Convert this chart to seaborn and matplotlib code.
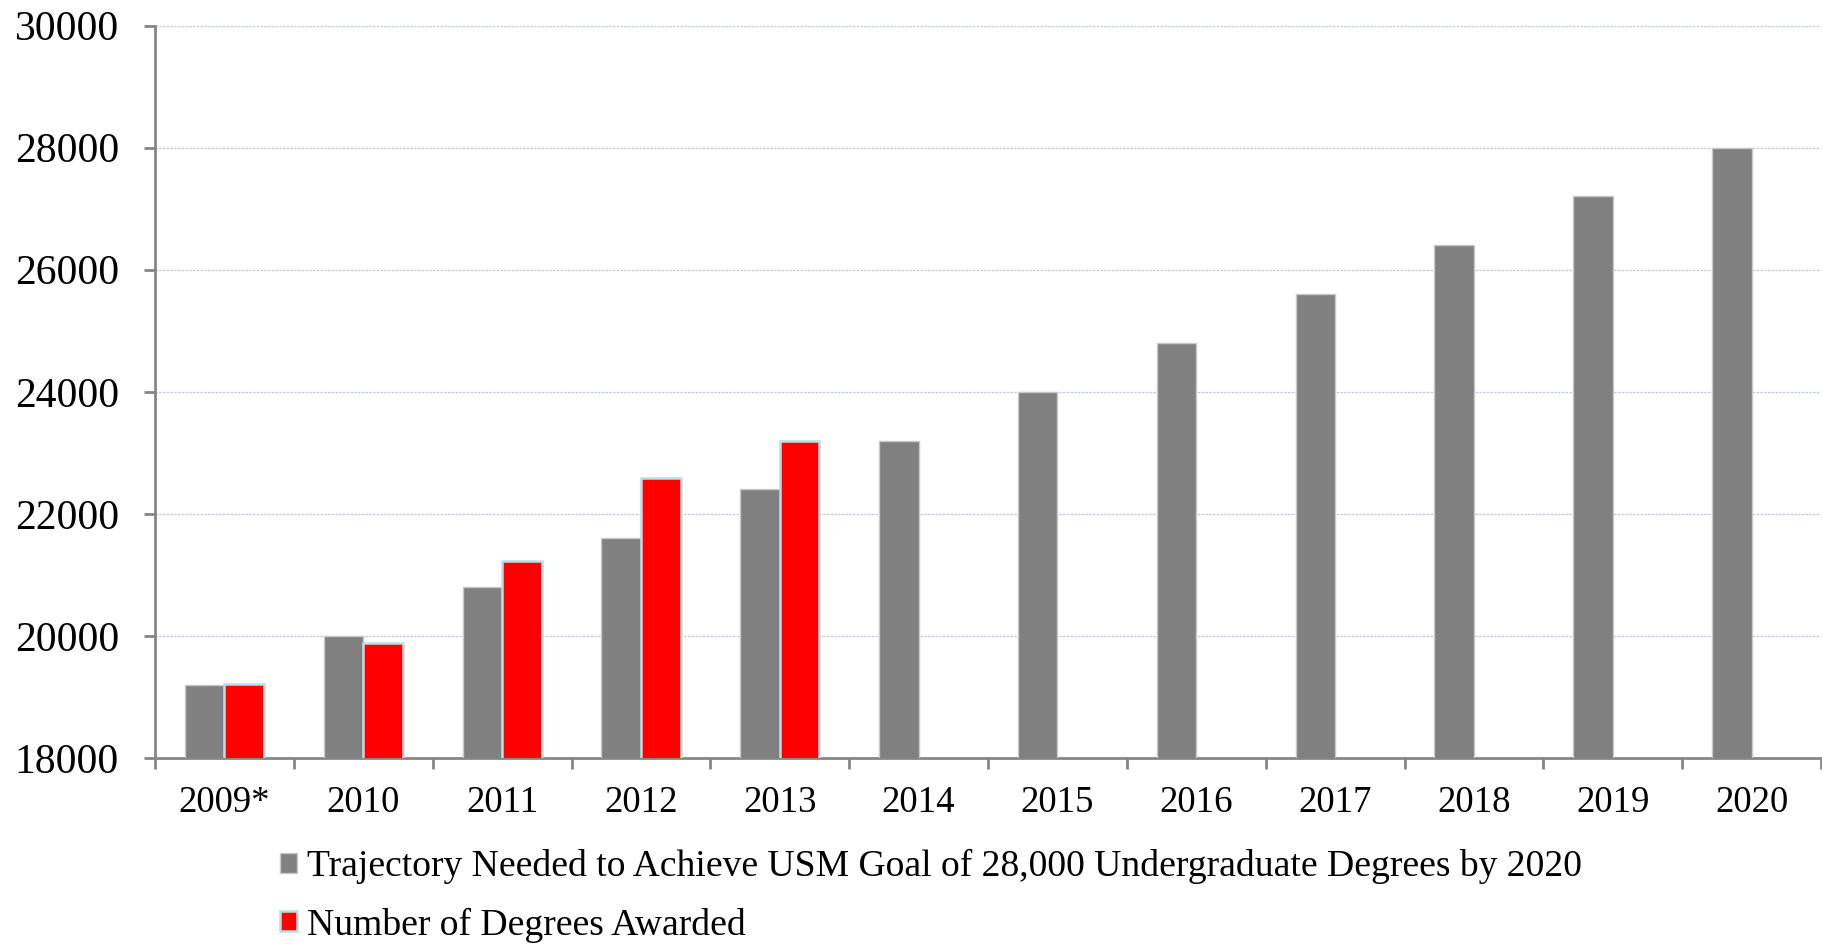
import matplotlib
matplotlib.use("Agg")
import matplotlib.pyplot as plt
from matplotlib.patches import Patch
import numpy as np
import pandas as pd
import seaborn as sns

# Category labels and series values
years = ["2009*", "2010", "2011", "2012", "2013", "2014", "2015", "2016",
         "2017", "2018", "2019", "2020"]
trajectory = [19200, 20000, 20800, 21600, 22400, 23200, 24000, 24800,
              25600, 26400, 27200, 28000]
awarded = [19210, 19890, 21220, 22580, 23190]

traj_label = "Trajectory Needed to Achieve USM Goal of 28,000 Undergraduate Degrees by 2020"
award_label = "Number of Degrees Awarded"
y_ticks = [18000, 20000, 22000, 24000, 26000, 28000, 30000]

sns.set_style("white")
plt.rcParams["font.family"] = ["Liberation Serif", "DejaVu Serif"]

rows = [{"year": y, "series": traj_label, "value": v} for y, v in zip(years, trajectory)]
rows += [{"year": y, "series": award_label, "value": v} for y, v in zip(years, awarded)]
df = pd.DataFrame(rows)

GRAY = "#808080"
RED = "#ff0000"

fig = plt.figure(figsize=(18.22, 9.44), dpi=100)
ax = fig.add_axes([155 / 1822, 1 - 758 / 944, 1 - 155 / 1822 - 0.0005, (758 - 25.6) / 944])

sns.barplot(data=df, x="year", y="value", hue="series", order=years,
            hue_order=[traj_label, award_label], palette=[GRAY, RED],
            saturation=1, width=0.57, gap=0, errorbar=None, ax=ax,
            legend=False, zorder=3)

# bar outlines: pale grey on the trajectory, pale cyan on the actual counts
for bar in ax.containers[0]:
    bar.set_edgecolor("#c8c8c8")
    bar.set_linewidth(1.0)
for bar in ax.containers[1]:
    bar.set_edgecolor("#b6e0e6")
    bar.set_linewidth(1.8)

ax.set_ylim(18000, 30000)
ax.set_xlim(-0.5, len(years) - 0.5)
ax.set_yticks(y_ticks)
ax.set_yticklabels([str(t) for t in y_ticks])
ax.set_xlabel("")
ax.set_ylabel("")

# horizontal dotted gridlines
ax.yaxis.grid(True, color="#b9cbe4", linestyle=(0, (2, 1)), linewidth=0.9, zorder=0)
ax.xaxis.grid(False)
ax.set_axisbelow(True)

for side in ["top", "right"]:
    ax.spines[side].set_visible(False)
for side in ["left", "bottom"]:
    ax.spines[side].set_color("#868686")
    ax.spines[side].set_linewidth(2)

ax.tick_params(axis="y", which="major", length=8, width=2, color="#868686",
               labelsize=30, pad=18, direction="out", left=True, labelcolor="black")
ax.tick_params(axis="x", which="major", length=0, labelsize=26.5, pad=20,
               labelcolor="black")
# category separators on the x axis
ax.set_xticks(np.arange(-0.5, len(years), 1.0), minor=True)
ax.tick_params(axis="x", which="minor", length=8, width=2, color="#868686",
               direction="out", bottom=True)

handles = [Patch(facecolor=GRAY, edgecolor="#c8c8c8", linewidth=1.0),
           Patch(facecolor=RED, edgecolor="#b6e0e6", linewidth=1.8)]
leg = fig.legend(handles, [traj_label, award_label], loc="upper left",
                 bbox_to_anchor=(280 / 1822, 1 - 849 / 944), frameon=False,
                 fontsize=27.1, handlelength=0.46, handleheight=0.46,
                 handletextpad=0.25, labelspacing=0.62, borderpad=0, borderaxespad=0)
for t in leg.get_texts():
    t.set_color("black")

fig.savefig("out.png", dpi=100, facecolor="white")
